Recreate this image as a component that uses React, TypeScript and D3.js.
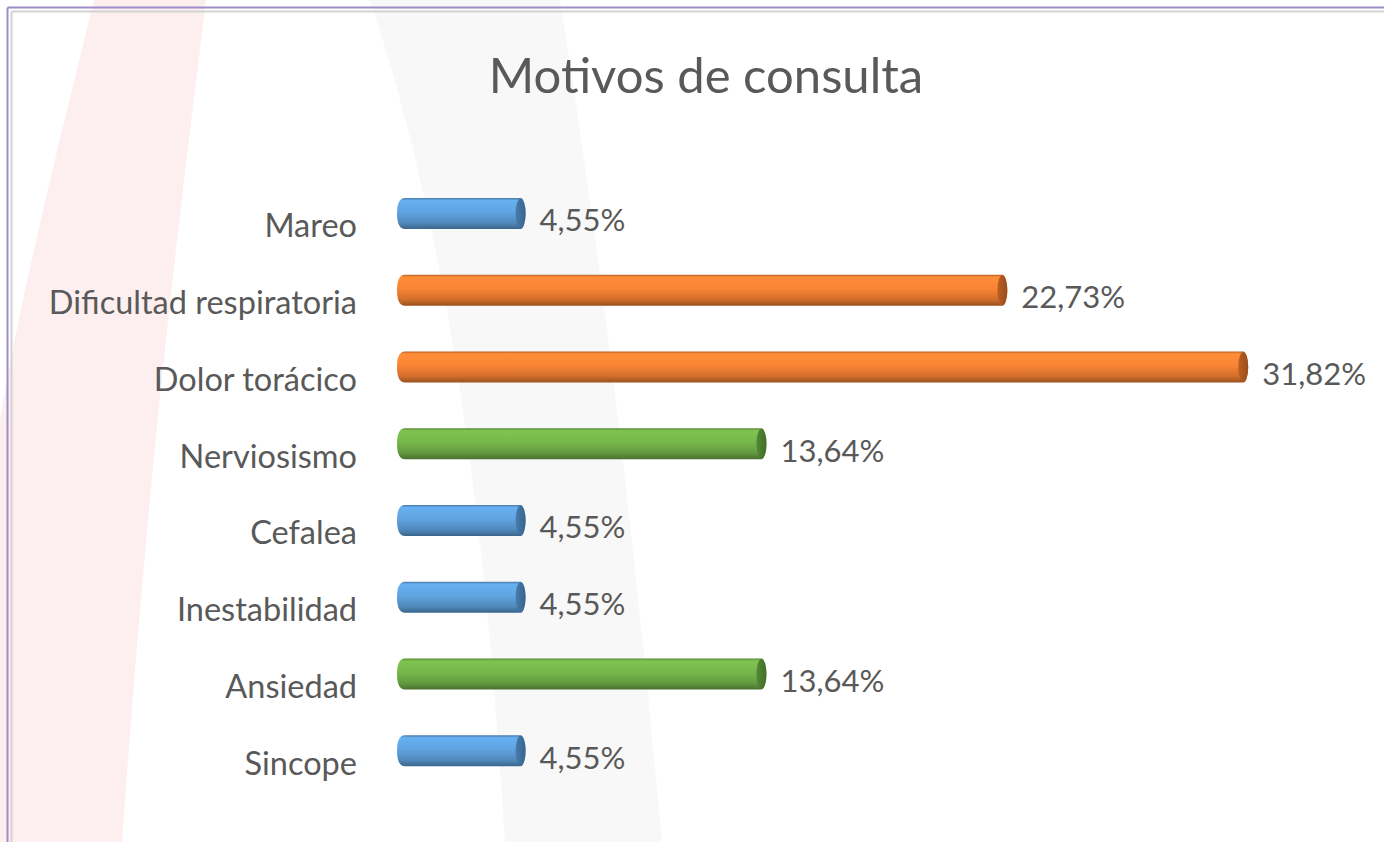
import React from 'react';
import * as d3 from 'd3';

// data
const categories = [
  'Mareo',
  'Dificultad respiratoria',
  'Dolor torácico',
  'Nerviosismo',
  'Cefalea',
  'Inestabilidad',
  'Ansiedad',
  'Sincope',
];
const values = [4.55, 22.73, 31.82, 13.64, 4.55, 4.55, 13.64, 4.55];
const colorGroups = ['blue', 'orange', 'orange', 'green', 'blue', 'blue', 'green', 'blue'];
const title = 'Motivos de consulta';

const palette: Record<string, { base: string; cap: string }> = {
  blue: { base: '#5b9bd5', cap: '#3f6f9c' },
  orange: { base: '#ed7d31', cap: '#a9561f' },
  green: { base: '#70ad47', cap: '#4b7a2d' },
};

const esLocale = d3.formatLocale({ decimal: ',', thousands: '.', grouping: [3], currency: ['', '€'] });
const fmt = esLocale.format('.2f');

const W = 1384;
const H = 842;
const textColor = '#595959';
const font = 'Lato, "Open Sans", sans-serif';

export default function App() {
  // scales
  const x = d3.scaleLinear().domain([0, 35]).range([400, 400 + 35 * 26.5]);
  const y = d3.scaleBand<string>()
    .domain(categories)
    .range([175.1, 789.1])
    .paddingInner(0.596)
    .paddingOuter(0.298);
  const bh = y.bandwidth();
  const capRx = 5;

  const rows = categories.map((c, i) => ({ c, v: values[i], g: colorGroups[i] }));

  // cylinder outline: rounded left end, elliptical right end
  const barPath = (x0: number, x1: number, top: number, h: number) => {
    const r = 5;
    const bottom = top + h;
    return `M${x0 + r},${top} L${x1},${top} A${capRx},${h / 2} 0 0 1 ${x1},${bottom} L${x0 + r},${bottom} ` +
      `Q${x0 - 3},${bottom} ${x0 - 3},${top + h / 2} Q${x0 - 3},${top} ${x0 + r},${top} Z`;
  };

  // faint decorative background bands
  const pinkBand = 'M94,0 L206,0 C182,200 152,420 122,842 L0,842 L0,420 C20,300 50,180 94,0 Z';
  const grayBand = 'M370,0 L560,0 C595,220 628,470 662,842 L505,842 C485,520 450,240 370,0 Z';

  return (
    <div style={{ position: 'absolute', left: 0, top: 0 }}>
      <svg width={W} height={H} style={{ display: 'block', background: '#ffffff' }}>
        <defs>
          {Object.entries(palette).map(([k, p]) => {
            const c = d3.color(p.base)!;
            return (
              <linearGradient key={k} id={`grad-${k}`} x1="0" y1="0" x2="0" y2="1">
                <stop offset="0" stopColor={c.darker(0.7).formatHex()} />
                <stop offset="0.08" stopColor={c.brighter(0.35).formatHex()} />
                <stop offset="0.45" stopColor={c.brighter(0.15).formatHex()} />
                <stop offset="0.8" stopColor={c.darker(0.35).formatHex()} />
                <stop offset="1" stopColor={c.darker(1.2).formatHex()} />
              </linearGradient>
            );
          })}
          {Object.entries(palette).map(([k, p]) => {
            const c = d3.color(p.cap)!;
            return (
              <linearGradient key={k} id={`cap-${k}`} x1="0" y1="0" x2="1" y2="0">
                <stop offset="0" stopColor={c.brighter(0.3).formatHex()} />
                <stop offset="1" stopColor={c.darker(0.3).formatHex()} />
              </linearGradient>
            );
          })}
        </defs>

        <path d={pinkBand} fill="#fdefef" />
        <path d={grayBand} fill="#f8f8f8" />

        {/* frame */}
        <line x1={7.5} y1={7.5} x2={W} y2={7.5} stroke="#9e8ccb" strokeWidth={2} />
        <line x1={7.5} y1={7.5} x2={7.5} y2={H} stroke="#9e8ccb" strokeWidth={2} />
        <line x1={11.5} y1={11.5} x2={W} y2={11.5} stroke="#d2d2d2" strokeWidth={2} />
        <line x1={11.5} y1={11.5} x2={11.5} y2={H} stroke="#d2d2d2" strokeWidth={2} />

        <text x={706} y={93} textAnchor="middle" fill={textColor}
          style={{ fontFamily: font, fontSize: 49 }}>{title}</text>

        {rows.map((d) => {
          const top = y(d.c)!;
          const cy = top + bh / 2;
          const x0 = x(0);
          const x1 = x(d.v);
          return (
            <g key={d.c}>
              <path d={barPath(x0, x1, top, bh)} fill={`url(#grad-${d.g})`} />
              <ellipse cx={x1} cy={cy} rx={capRx} ry={bh / 2 - 0.5} fill={`url(#cap-${d.g})`} />
              <text x={x0 - 43} y={cy + 24} textAnchor="end" fill={textColor}
                style={{ fontFamily: font, fontSize: 32.5 }}>{d.c}</text>
              <text x={x1 + 19} y={cy + 18} fill={textColor}
                style={{ fontFamily: font, fontSize: 31 }}>{fmt(d.v)}%</text>
            </g>
          );
        })}
      </svg>
    </div>
  );
}
